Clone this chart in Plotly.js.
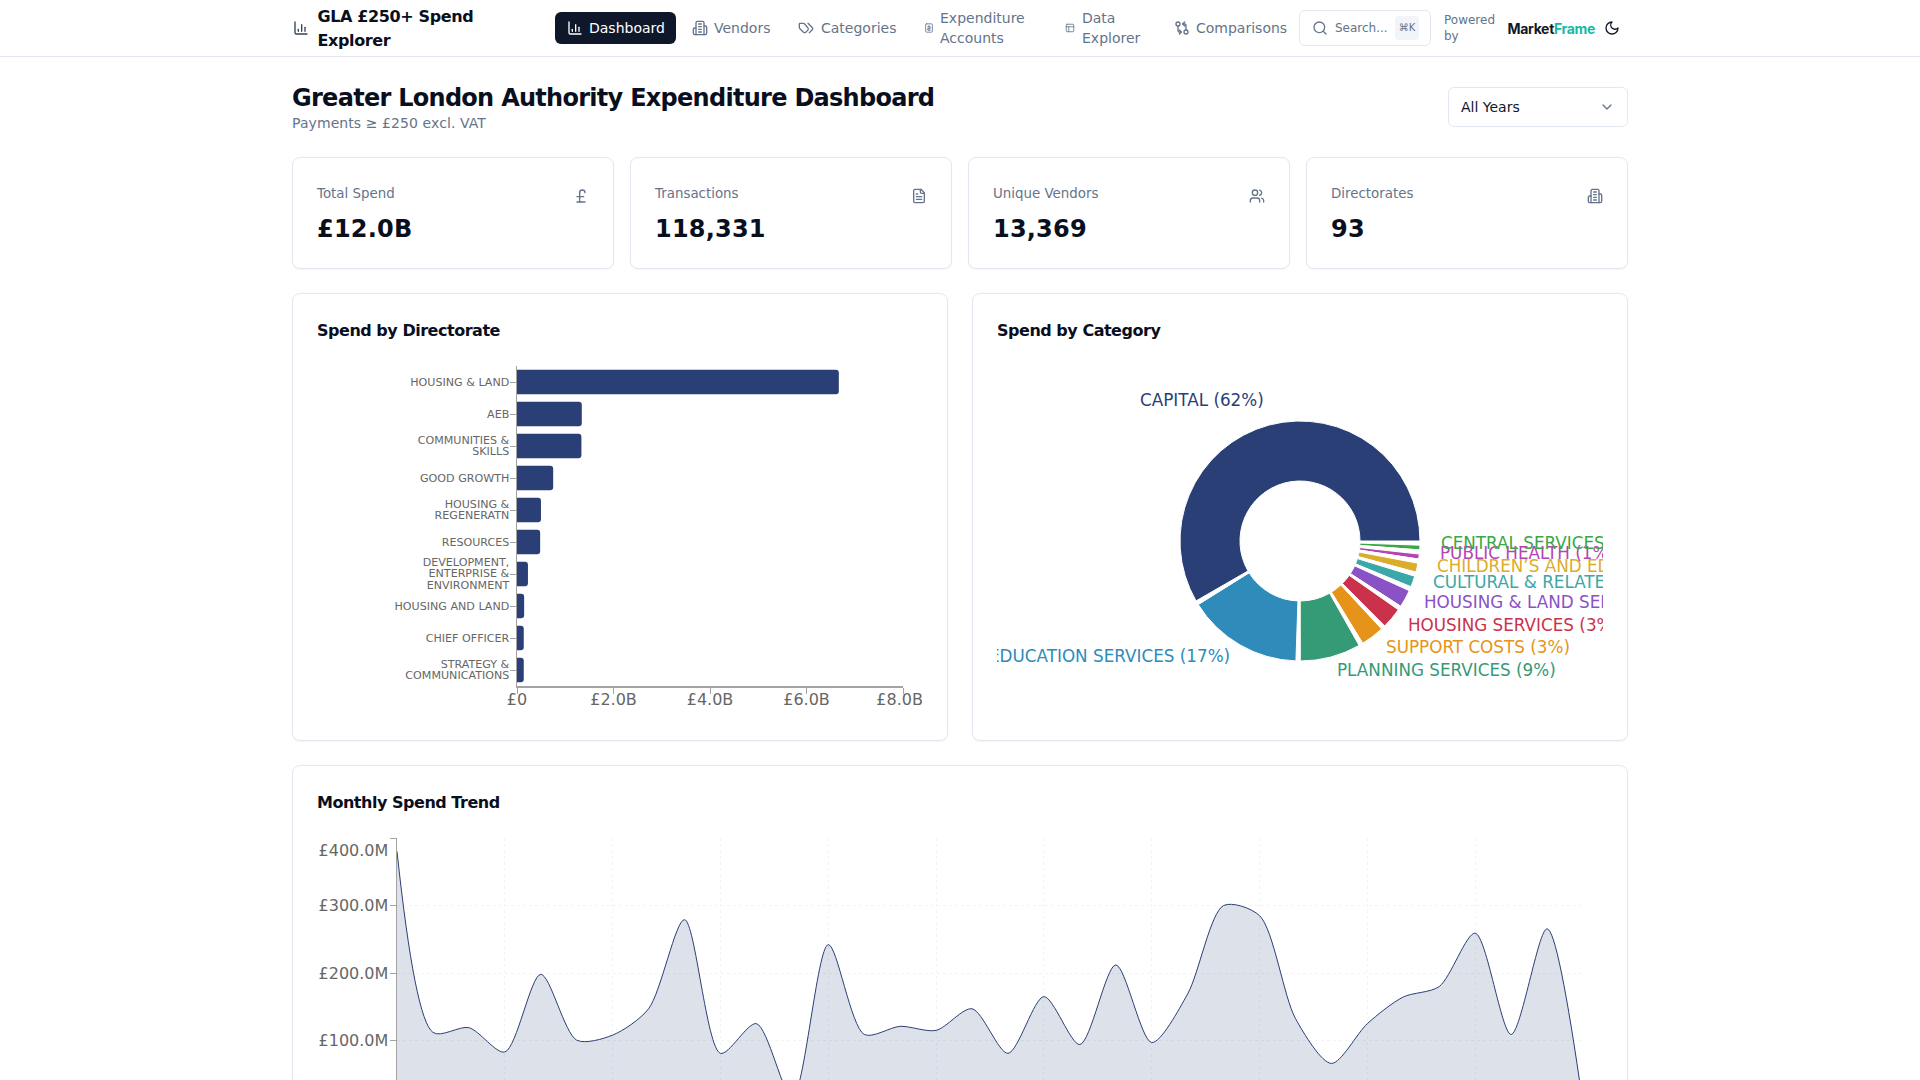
<!DOCTYPE html>
<html><head><meta charset="utf-8">
<script src="https://cdn.plot.ly/plotly-3.0.1.min.js"></script>
<style>
html,body{margin:0;padding:0;background:#fff;width:1920px;height:1080px;overflow:hidden;font-family:"DejaVu Sans",sans-serif;color:#0a0f1e}
.a{position:absolute;white-space:nowrap}
.hdr{left:0;top:0;width:1920px;height:56px;border-bottom:1px solid #e2e8f0}
.nav{font-size:14px;color:#64748b;line-height:20px;transform:translateY(-50%)}
.ico{position:absolute;fill:none;stroke:currentColor;stroke-width:2;stroke-linecap:round;stroke-linejoin:round}
.card{border:1px solid #e2e8f0;border-radius:8px;box-sizing:border-box;background:#fff;box-shadow:0 1px 2px rgba(0,0,0,.04)}
.lbl{font-size:13.4px;color:#64748b;transform:translateY(-50%)}
.val{font-size:24px;font-weight:700;letter-spacing:.2px;transform:translateY(-50%)}
.ttl{font-size:16px;font-weight:700;letter-spacing:-.48px;transform:translateY(-50%)}
.chart{position:absolute;overflow:hidden}
</style></head><body>
<div class="a hdr"></div>
<svg class="ico" style="left:293px;top:20px;color:#334155" width="16" height="16" viewBox="0 0 24 24"><path d="M3 3v16a2 2 0 0 0 2 2h16"/><path d="M8 17v-3"/><path d="M13 17V7"/><path d="M18 17V11"/></svg>
<div class="a" style="left:317.5px;top:5px;font-size:16px;font-weight:700;letter-spacing:-.38px;line-height:24px">GLA £250+ Spend<br>Explorer</div>
<div class="a" style="left:555px;top:12px;width:121px;height:32px;background:#0f172a;border-radius:6px"></div>
<svg class="ico" style="left:567px;top:20px;color:#fff" width="16" height="16" viewBox="0 0 24 24"><path d="M3 3v16a2 2 0 0 0 2 2h16"/><path d="M8 17v-3"/><path d="M13 17V7"/><path d="M18 17V11"/></svg>
<div class="a nav" style="left:589px;top:28px;color:#fff">Dashboard</div>
<svg class="ico" style="left:692px;top:20px;color:#64748b" width="16" height="16" viewBox="0 0 24 24"><path d="M6 22V4a2 2 0 0 1 2-2h8a2 2 0 0 1 2 2v18Z"/><path d="M6 12H4a2 2 0 0 0-2 2v6a2 2 0 0 0 2 2h2"/><path d="M18 9h2a2 2 0 0 1 2 2v9a2 2 0 0 1-2 2h-2"/><path d="M10 6h4M10 10h4M10 14h4M10 18h4"/></svg>
<div class="a nav" style="left:714px;top:28px">Vendors</div>
<svg class="ico" style="left:798px;top:20px;color:#64748b" width="16" height="16" viewBox="0 0 24 24"><path d="m15 5 6.3 6.3a2.4 2.4 0 0 1 0 3.4L17 19"/><path d="M9.6 5.6A2 2 0 0 0 8.2 5H3a1 1 0 0 0-1 1v5.2a2 2 0 0 0 .6 1.4l5.7 5.7a2.4 2.4 0 0 0 3.4 0l3.1-3.1a2.4 2.4 0 0 0 0-3.4z"/></svg>
<div class="a nav" style="left:821px;top:28px">Categories</div>
<svg class="ico" style="left:924px;top:23px;color:#64748b" width="10" height="10" viewBox="0 0 24 24"><rect x="4" y="2" width="16" height="20" rx="2"/><path d="M12 6v12M9 9h5a2 2 0 0 1 0 4h-4a2 2 0 0 0 0 4h5"/></svg>
<div class="a nav" style="left:940px;top:28px">Expenditure<br>Accounts</div>
<svg class="ico" style="left:1065px;top:23px;color:#64748b" width="10" height="10" viewBox="0 0 24 24"><rect x="3" y="3" width="18" height="18" rx="2"/><path d="M3 9h18M9 21V9"/></svg>
<div class="a nav" style="left:1082px;top:28px">Data<br>Explorer</div>
<svg class="ico" style="left:1174px;top:20px;color:#64748b" width="16" height="16" viewBox="0 0 24 24"><circle cx="18" cy="18" r="3"/><circle cx="6" cy="6" r="3"/><path d="M13 6h3a2 2 0 0 1 2 2v7"/><path d="M11 18H8a2 2 0 0 1-2-2V9"/><path d="m16 3-3 3 3 3"/><path d="m8 21 3-3-3-3"/></svg>
<div class="a nav" style="left:1196px;top:28px">Comparisons</div>
<div class="a" style="left:1299px;top:10px;width:132px;height:36px;border:1px solid #e2e8f0;border-radius:6px;box-sizing:border-box"></div>
<svg class="ico" style="left:1312px;top:20px;color:#64748b" width="16" height="16" viewBox="0 0 24 24"><circle cx="11" cy="11" r="8"/><path d="m21 21-4.3-4.3"/></svg>
<div class="a nav" style="left:1335px;top:28px;font-size:12px">Search...</div>
<div class="a" style="left:1395px;top:16px;width:24px;height:24px;background:#f1f5f9;border-radius:4px;font-size:10px;color:#64748b;text-align:center;line-height:24px">⌘K</div>
<div class="a nav" style="left:1444px;top:28px;font-size:12px;line-height:16px">Powered<br>by</div>
<div class="a" style="left:1507.5px;top:28px;transform:translateY(-50%);font-family:Inter,sans-serif;font-size:14px;font-weight:700;letter-spacing:-.32px;color:#0f172a">Market<span style="color:#14b8a6">Frame</span></div>
<svg class="ico" style="left:1604px;top:20px;color:#0f172a" width="16" height="16" viewBox="0 0 24 24"><path d="M12 3a6 6 0 0 0 9 9 9 9 0 1 1-9-9Z"/></svg>

<div class="a" style="left:292px;top:97.5px;transform:translateY(-50%);font-size:24px;font-weight:700;letter-spacing:-.72px">Greater London Authority Expenditure Dashboard</div>
<div class="a" style="left:292px;top:123px;transform:translateY(-50%);font-size:14px;letter-spacing:.08px;color:#64748b">Payments ≥ £250 excl. VAT</div>
<div class="a" style="left:1448px;top:87px;width:180px;height:40px;border:1px solid #e2e8f0;border-radius:6px;box-sizing:border-box"></div>
<div class="a" style="left:1461px;top:107px;transform:translateY(-50%);font-size:14px;color:#0f172a">All Years</div>
<svg class="ico" style="left:1599px;top:99px;color:#64748b" width="16" height="16" viewBox="0 0 24 24"><path d="m6 9 6 6 6-6"/></svg>

<div class="a card" style="left:292px;top:157px;width:322px;height:112px"></div>
<div class="a lbl" style="left:317px;top:192.5px">Total Spend</div>
<svg class="ico" style="left:573px;top:188px;color:#64748b" width="16" height="16" viewBox="0 0 24 24"><path d="M18 7c0-5.333-8-5.333-8 0"/><path d="M10 7v14"/><path d="M6 21h12"/><path d="M6 13h10"/></svg>
<div class="a val" style="left:317px;top:228.5px">£12.0B</div>
<div class="a card" style="left:630px;top:157px;width:322px;height:112px"></div>
<div class="a lbl" style="left:655px;top:192.5px">Transactions</div>
<svg class="ico" style="left:911px;top:188px;color:#64748b" width="16" height="16" viewBox="0 0 24 24"><path d="M15 2H6a2 2 0 0 0-2 2v16a2 2 0 0 0 2 2h12a2 2 0 0 0 2-2V7Z"/><path d="M14 2v4a2 2 0 0 0 2 2h4"/><path d="M10 9H8M16 13H8M16 17H8"/></svg>
<div class="a val" style="left:655px;top:228.5px">118,331</div>
<div class="a card" style="left:968px;top:157px;width:322px;height:112px"></div>
<div class="a lbl" style="left:993px;top:192.5px">Unique Vendors</div>
<svg class="ico" style="left:1249px;top:188px;color:#64748b" width="16" height="16" viewBox="0 0 24 24"><path d="M16 21v-2a4 4 0 0 0-4-4H6a4 4 0 0 0-4 4v2"/><circle cx="9" cy="7" r="4"/><path d="M22 21v-2a4 4 0 0 0-3-3.87"/><path d="M16 3.13a4 4 0 0 1 0 7.75"/></svg>
<div class="a val" style="left:993px;top:228.5px">13,369</div>
<div class="a card" style="left:1306px;top:157px;width:322px;height:112px"></div>
<div class="a lbl" style="left:1331px;top:192.5px">Directorates</div>
<svg class="ico" style="left:1587px;top:188px;color:#64748b" width="16" height="16" viewBox="0 0 24 24"><path d="M6 22V4a2 2 0 0 1 2-2h8a2 2 0 0 1 2 2v18Z"/><path d="M6 12H4a2 2 0 0 0-2 2v6a2 2 0 0 0 2 2h2"/><path d="M18 9h2a2 2 0 0 1 2 2v9a2 2 0 0 1-2 2h-2"/><path d="M10 6h4M10 10h4M10 14h4M10 18h4"/></svg>
<div class="a val" style="left:1331px;top:228.5px">93</div>

<div class="a card" style="left:292px;top:293px;width:656px;height:448px"></div>
<div class="a ttl" style="left:317px;top:330px">Spend by Directorate</div>
<div class="chart" id="barChart" style="left:317px;top:351px;width:606px;height:380px"></div>
<div class="a card" style="left:972px;top:293px;width:656px;height:448px"></div>
<div class="a ttl" style="left:997px;top:330px">Spend by Category</div>
<div class="chart" id="pieChart" style="left:997px;top:351px;width:606px;height:380px"></div>
<div class="a card" style="left:292px;top:765px;width:1336px;height:420px"></div>
<div class="a ttl" style="left:317px;top:802px">Monthly Spend Trend</div>
<div class="chart" id="lineChart" style="left:317px;top:830px;width:1286px;height:320px"></div>

<script>
const directorates = ["HOUSING & LAND","AEB","COMMUNITIES &<br>SKILLS","GOOD GROWTH","HOUSING &<br>REGENERATN","RESOURCES","DEVELOPMENT,<br>ENTERPRISE &<br>ENVIRONMENT","HOUSING AND LAND","CHIEF OFFICER","STRATEGY &<br>COMMUNICATIONS"];
const directorateSpend = [6.67e9,1.343e9,1.335e9,0.75e9,0.497e9,0.48e9,0.227e9,0.148e9,0.14e9,0.14e9];

const categories = ["CAPITAL","EDUCATION SERVICES","PLANNING SERVICES","SUPPORT COSTS","HOUSING SERVICES","HOUSING & LAND SERVICES","CULTURAL & RELATED SERVICES","CHILDREN'S AND EDUCATION SERVICES","PUBLIC HEALTH","CENTRAL SERVICES"];
const categorySpend = [7.41,1.98,1.04,0.40,0.36,0.30,0.19,0.155,0.085,0.08];
const categoryColors = ["#2a3f75","#2e8bba","#359a76","#e59419","#cc314b","#8b52c6","#3ba7a7","#dbad2a","#b344b3","#3aa845"];

const months = ["Jan 21","Feb 21","Mar 21","Apr 21","May 21","Jun 21","Jul 21","Aug 21","Sep 21","Oct 21","Nov 21","Dec 21","Jan 22","Feb 22","Mar 22","Apr 22","May 22","Jun 22","Jul 22","Aug 22","Sep 22","Oct 22","Nov 22","Dec 22","Jan 23","Feb 23","Mar 23","Apr 23","May 23","Jun 23","Jul 23","Aug 23","Sep 23","Oct 23"];
const monthlySpend = [380,112,119,83,198,100.5,108,147,279,81,125,15,242,109,121,115,147,81,165,94,212,97,169,300,285,132.5,66,125,164.5,180,259,109,265.5,5];

const NAVY="#2a3f75", INK="#666", AXIS="#a3a3a3";
const tickFont={family:"DejaVu Sans, sans-serif",size:16,color:INK};
const base={paper_bgcolor:"rgba(0,0,0,0)",plot_bgcolor:"rgba(0,0,0,0)",showlegend:false,font:{family:"DejaVu Sans, sans-serif"}};
const cfg={displayModeBar:false,staticPlot:true};

function fmtB(v){return v===0?"£0":"£"+(v/1e9).toFixed(1)+"B";}
const barTicks=[0,2e9,4e9,6e9,8e9];
const barP=Plotly.newPlot("barChart",[{type:"bar",orientation:"h",y:directorates,x:directorateSpend,marker:{color:NAVY},width:0.77}],
 Object.assign({},base,{width:606,height:380,margin:{l:200,r:20,t:15,b:45},barcornerradius:3,
  xaxis:{range:[0,8e9],tickmode:"array",tickvals:barTicks,ticktext:barTicks.map(fmtB),ticks:"outside",ticklen:6,tickcolor:AXIS,showline:true,linecolor:AXIS,linewidth:1.5,showgrid:false,zeroline:false,tickfont:tickFont,ticklabeloverflow:"allow",ticklabelstandoff:-8},
  yaxis:{type:"category",categoryorder:"array",categoryarray:directorates,autorange:false,range:[directorates.length-0.5,-0.5],ticks:"outside",ticklen:6,tickcolor:AXIS,showline:true,linecolor:AXIS,linewidth:1.5,showgrid:false,zeroline:false,tickfont:Object.assign({},tickFont,{size:11.1}),ticklabelstandoff:-2}
 }),cfg);

const total=categorySpend.reduce((a,b)=>a+b,0);
const GAP_DEG=2, net=360-GAP_DEG*categories.length, gapVal=total*GAP_DEG/net;
const pieVals=[],pieCols=[],pieLabs=[];
categories.forEach((c,i)=>{pieVals.push(categorySpend[i],gapVal);pieCols.push(categoryColors[i],"rgba(255,255,255,0)");pieLabs.push(c,"gap"+i);});
pieVals.reverse();pieCols.reverse();pieLabs.reverse();
const W=606,H=380,R=120;
let ang=0;const notes=[];
categories.forEach((c,i)=>{const sweep=categorySpend[i]/total*net,mid=(ang+sweep/2)*Math.PI/180;ang+=sweep+GAP_DEG;
 const px=W/2+(R+20)*Math.cos(mid),py=H/2-(R+20)*Math.sin(mid)-6,right=Math.cos(mid)>=0;
 notes.push({xref:"paper",yref:"paper",x:px/W,y:1-py/H,xanchor:right?"left":"right",xshift:right?1:0,yanchor:"middle",showarrow:false,borderpad:0,borderwidth:0,
  text:c.replace("'","’")+" ("+Math.round(categorySpend[i]/total*100)+"%)",font:{family:"DejaVu Sans, sans-serif",size:16.8,color:categoryColors[i]}});});
const pieP=Plotly.newPlot("pieChart",[{type:"pie",labels:pieLabs,values:pieVals,sort:false,direction:"clockwise",rotation:90,hole:0.5,textinfo:"none",
  marker:{colors:pieCols,line:{color:"#fff",width:1}},domain:{x:[(W/2-R)/W,(W/2+R)/W],y:[(H/2-R)/H,(H/2+R)/H]}}],
 Object.assign({},base,{width:W,height:H,margin:{l:0,r:0,t:0,b:0},annotations:notes}),cfg);

const lineP=Plotly.newPlot("lineChart",[{type:"scatter",mode:"lines",x:months,y:monthlySpend.map(v=>v*1e6),line:{color:NAVY,width:1,shape:"spline",smoothing:0.8},fill:"tozeroy",fillcolor:"rgba(28,62,115,0.15)"}],
 Object.assign({},base,{width:1286,height:320,margin:{l:80,r:20,t:8,b:42},
  xaxis:{type:"category",range:[0,months.length-1],autorange:false,tickmode:"linear",tick0:0,dtick:3,ticks:"outside",ticklen:6,tickcolor:AXIS,showline:true,linecolor:AXIS,linewidth:1.5,showgrid:true,griddash:"3px,3px",gridcolor:"#f3f4f6",gridwidth:1,tickfont:Object.assign({},tickFont,{size:12}),zeroline:false},
  yaxis:{range:[0,400e6],autorange:false,tickmode:"array",tickvals:[0,1e8,2e8,3e8,4e8],ticktext:["£0","£100.0M","£200.0M","£300.0M","£400.0M"],ticks:"outside",ticklen:6,tickcolor:AXIS,showline:true,linecolor:AXIS,linewidth:1.5,showgrid:true,griddash:"3px,3px",gridcolor:"#f3f4f6",gridwidth:1,tickfont:tickFont,zeroline:false,ticklabelstandoff:-2,ticklabeloverflow:"allow"}
 }),cfg);

function nudge(el,dx,dy){el.setAttribute("transform",(el.getAttribute("transform")||"")+" translate("+dx+","+dy+")");}
barP.then(gd=>{
 const ya=gd._fullLayout.yaxis, box=gd.getBoundingClientRect();
 gd.querySelectorAll(".ytick text").forEach((t)=>{
  const lines=t.querySelectorAll("tspan.line");
  if(lines.length>1){
   lines.forEach((l,i)=>l.setAttribute("dy",i+"em"));
   const idx=directorates.findIndex(d=>d.replace(/<br>/g,"")===t.textContent);
   const r=t.getBoundingClientRect(),c=r.top+r.height/2-box.top,target=ya._offset+ya.l2p(idx);
   nudge(t,0,target-c);
  }
 });
 const xt=[...gd.querySelectorAll(".xtick text")].find(t=>t.textContent==="£8.0B");
 if(xt)nudge(xt,-3.4,0);
});
lineP.then(gd=>{
 const yt=[...gd.querySelectorAll(".ytick text")].find(t=>t.textContent==="£400.0M");
 if(yt)nudge(yt,0,12);
});
</script>
</body></html>
